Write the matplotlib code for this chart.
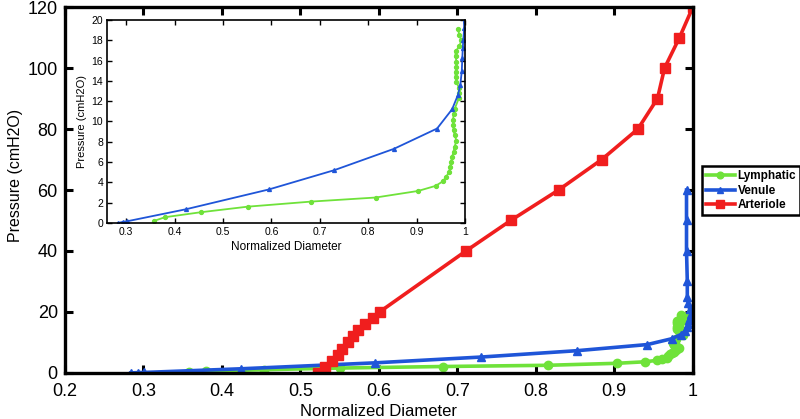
import matplotlib

matplotlib.use("Agg")
import matplotlib.pyplot as plt
from matplotlib import font_manager

names = {f.name for f in font_manager.fontManager.ttflist}
FONT = "Liberation Sans" if "Liberation Sans" in names else "DejaVu Sans"
plt.rcParams.update({"font.family": [FONT, "DejaVu Sans"]})

# pressure-diameter curves
LYMPH_D = [0.358, 0.38, 0.454, 0.551, 0.682, 0.815, 0.903, 0.939, 0.954, 0.961, 0.967,
           0.969, 0.971, 0.973, 0.976, 0.978, 0.982, 0.978, 0.976, 0.975, 0.975, 0.976,
           0.978, 0.987, 0.988, 0.987, 0.982, 0.980, 0.980, 0.982, 0.982, 0.980, 0.980,
           0.988, 0.992, 0.988, 0.985]
LYMPH_P = [0.2, 0.56, 1.05, 1.6, 2.1, 2.5, 3.15, 3.65, 4.1, 4.56, 5.05,
           5.55, 6.04, 6.53, 7.02, 7.5, 8.1, 8.67, 9.16, 9.65, 10.15, 10.7,
           11.2, 12.3, 12.8, 13.3, 13.9, 14.4, 14.9, 15.4, 15.9, 16.4, 16.9,
           17.4, 18.0, 18.5, 19.1]

VENULE_D = [0.284, 0.293, 0.301, 0.424, 0.595, 0.730, 0.853, 0.942, 0.973, 0.985,
            0.990, 0.993, 0.994, 0.995, 0.996, 0.998, 0.996, 0.994, 0.993, 0.993,
            0.992, 0.992, 0.992]
VENULE_P = [0.0, 0.1, 0.15, 1.35, 3.3, 5.2, 7.3, 9.3, 11.2, 12.6,
            13.6, 15.0, 16.2, 17.2, 18.0, 19.2, 21.0, 23.0, 25.0, 30.0,
            40.0, 50.0, 60.0]

ARTERIOLE_D = [0.522, 0.532, 0.540, 0.548, 0.553, 0.561, 0.567, 0.574, 0.582, 0.592,
               0.601, 0.711, 0.768, 0.829, 0.884, 0.930, 0.955, 0.964, 0.983, 1.0]
ARTERIOLE_P = [0, 2, 4, 6, 8, 10, 12, 14, 16, 18,
               20, 40, 50, 60, 70, 80, 90, 100, 110, 120]

GREEN, BLUE, RED = "#6fe23a", "#1f55d8", "#f01e1e"

fig = plt.figure(figsize=(8.0, 4.19), dpi=100)
ax = fig.add_axes([0.081, 0.110, 0.785, 0.873])

ax.plot(LYMPH_D, LYMPH_P, "-o", color=GREEN, lw=2.6, ms=6, label="Lymphatic")
ax.plot(VENULE_D, VENULE_P, "-^", color=BLUE, lw=2.6, ms=6, label="Venule")
ax.plot(ARTERIOLE_D, ARTERIOLE_P, "-s", color=RED, lw=2.6, ms=7.5, label="Arteriole")

ax.set_xlim(0.2, 1.0)
ax.set_ylim(0, 120)
ax.set_xticks([0.2, 0.3, 0.4, 0.5, 0.6, 0.7, 0.8, 0.9, 1.0])
ax.set_xticklabels(["0.2", "0.3", "0.4", "0.5", "0.6", "0.7", "0.8", "0.9", "1"])
ax.set_yticks(range(0, 121, 20))
ax.tick_params(direction="in", top=True, right=True, length=6, width=2.2,
               labelsize=13, pad=5)
ax.tick_params(axis="x", pad=7)
for s in ax.spines.values():
    s.set_linewidth(2.4)
ax.set_xlabel("Normalized Diameter", fontsize=12, labelpad=3)
ax.set_ylabel("Pressure (cmH2O)", fontsize=11.5, labelpad=3)
ax.yaxis.set_label_coords(-0.066, 0.54)

leg = fig.legend(loc="upper left", bbox_to_anchor=(0.877, 0.603),
                 fancybox=False, edgecolor="black", framealpha=1, handlelength=2.5,
                 handletextpad=0.2, borderpad=0.35, borderaxespad=0, labelspacing=0.2,
                 markerscale=0.8, prop={"weight": "bold", "size": 8.5})
leg.get_frame().set_linewidth(1.8)

# zoomed inset of the low-pressure range
ins = fig.add_axes([0.134, 0.468, 0.4475, 0.4845])
ins.plot(LYMPH_D, LYMPH_P, "-o", color=GREEN, lw=1.3, ms=2.8)
ins.plot(VENULE_D, VENULE_P, "-^", color=BLUE, lw=1.3, ms=2.8)
ins.set_xlim(0.261, 1.0)
ins.set_ylim(0, 20)
ins.set_xticks([0.3, 0.4, 0.5, 0.6, 0.7, 0.8, 0.9, 1.0])
ins.set_xticklabels(["0.3", "0.4", "0.5", "0.6", "0.7", "0.8", "0.9", "1"])
ins.set_yticks(range(0, 21, 2))
ins.tick_params(direction="in", top=True, right=True, length=3.5, width=1,
                labelsize=7.5, pad=3)
for s in ins.spines.values():
    s.set_linewidth(1.2)
ins.set_xlabel("Normalized Diameter", fontsize=8.5, labelpad=3)
ins.set_ylabel("Pressure (cmH2O)", fontsize=8, labelpad=3)

fig.savefig("out.png", dpi=100)
